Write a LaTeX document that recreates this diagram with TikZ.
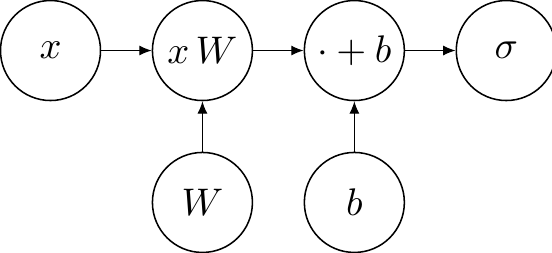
\documentclass[tikz,border=0pt]{standalone}
\usepackage{amsmath,amssymb}
\usepackage{tikz}
\usetikzlibrary{positioning,arrows.meta}

\begin{document}
\begin{tikzpicture}[
    node distance=13.1pt and 13.1pt,
    every node/.style={font=\fontsize{9.6}{11}\selectfont},
    op/.style={circle,draw,inner sep=0pt,minimum size=26pt},
    arrow/.style={-{Latex[length=3.2pt,width=2.6pt]},line width=0.3pt}
]
\useasboundingbox (-13.13pt,-52.39pt) rectangle (130.39pt,13.13pt);
\node[op] (x)  {$x$};
\node[op,right=of x] (xw)  {$x\,W$};
\node[op,right=of xw] (add)  {$\cdot+b$};
\node[op,right=of add] (sig)  {$\sigma$};
\node[op,below=of xw] (w)  {$W$};
\node[op,below=of add] (b)  {$b$};
\draw[arrow] (x)  -- (xw);
\draw[arrow] (xw)  -- (add);
\draw[arrow] (add)  -- (sig);
\draw[arrow] (w)  -- (xw);
\draw[arrow] (b)  -- (add);
\end{tikzpicture}
\end{document}
